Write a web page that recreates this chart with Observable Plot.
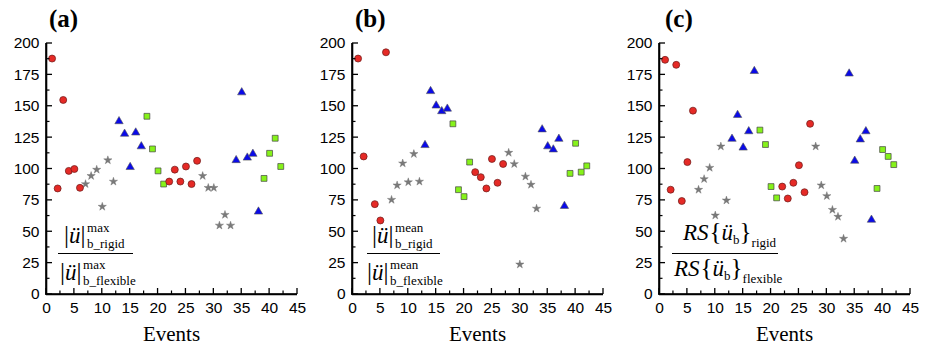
<!DOCTYPE html>
<html><head><meta charset="utf-8">
<script src="https://cdn.jsdelivr.net/npm/d3@7"></script>
<script src="https://cdn.jsdelivr.net/npm/@observablehq/plot@0.6"></script>
<style>
html,body{margin:0;padding:0;background:#fff}
#root{position:relative;width:927px;height:346px;overflow:hidden;background:#fff}
.panel{position:absolute;top:0;width:307px;height:346px}
.panel > svg{position:absolute;left:0;top:0}
</style></head><body><div id="root"></div>
<script>
// Event numbers of each group
const redEvents   = [1,2,3,4,5,6,22,23,24,25,26,27];
const starEvents  = [7,8,9,10,11,12,28,29,30,31,32,33];
const blueEvents  = [13,14,15,16,17,34,35,36,37,38];
const greenEvents = [18,19,20,21,39,40,41,42];

// (a) max ratio
const redA   = [188,84.5,155,98.5,100,85,90,99.5,90,102,88,106.5];
const starA  = [88,94.5,99.5,70,107,90,94.5,85,85,55,63.5,55];
const blueA  = [138,128,101.5,129,118,107,161,109,112,66];
const greenA = [142,116,98.5,88,92.5,112.5,124.5,102];

// (b) mean ratio (event 3 off the chart)
const redB   = [188,110,null,72,59,193,97.5,93.5,84.5,108,89,104];
const starB  = [75.5,87,104.5,89.5,112,90,113,104,24,94,87.5,68.5];
const blueB  = [119,162,150.5,146,148,131.5,118,115.5,124,70.5];
const greenB = [136,83.5,78,105.5,96.5,120.5,97.5,102.5];

// (c) response spectrum ratio
const redC   = [187,83.5,183,74.5,105.5,146.5,86,76.5,89,103,81.5,136];
const starC  = [83.5,92,101,63,118,75,118,87,78.5,67.5,62,44.5];
const blueC  = [124,143,117,130,178,176,106.5,123.5,130,59.5];
const greenC = [131,119.5,86,77,84.5,115.5,110,103.5];

// ticks
const xTicks = [0,5,10,15,20,25,30,35,40,45];
const xMinor = [2.5,7.5,12.5,17.5,22.5,27.5,32.5,37.5,42.5];
const yTicks = [0,25,50,75,100,125,150,175,200];
const yMinor = [12.5,37.5,62.5,87.5,112.5,137.5,162.5,187.5];

const titles = ["(a)","(b)","(c)"];
const xLabel = "Events";

const zip = (ev, vals) => ev.map((e, i) => ({e, v: vals[i]}));

const root = document.getElementById("root");
const SERIF = "Liberation Serif";

const W = 307, H = 346, ML = 46, MR = 10, MT = 43, MB = 52;
const X0 = 0, X1 = 45, Y0 = 0, Y1 = 200;

const panels = [
  {left:0,   red:redA, star:starA, blue:blueA, green:greenA, kind:"max"},
  {left:306, red:redB, star:starB, blue:blueB, green:greenB, kind:"mean"},
  {left:613, red:redC, star:starC, blue:blueC, green:greenC, kind:"rs"}
];

panels.forEach((p, k) => {
  const div = document.createElement("div");
  div.className = "panel";
  div.style.left = p.left + "px";
  root.appendChild(div);

  const chart = Plot.plot({
    width: W, height: H,
    marginLeft: ML, marginRight: MR, marginTop: MT, marginBottom: MB,
    style: {fontFamily: "Liberation Sans", fontSize: "15.5px", background: "transparent"},
    x: {domain: [X0, X1]},
    y: {domain: [Y0, Y1]},
    marks: [
      Plot.axisX({ticks: xTicks, tickSize: 0, tickPadding: 7, label: null, fontSize: 15.5, fill: "black"}),
      Plot.axisY({ticks: yTicks, tickSize: 0, tickPadding: 7, label: null, fontSize: 15.5, fill: "black"}),
      Plot.ruleX([X0], {stroke: "black", strokeWidth: 1.6}),
      Plot.ruleY([Y0], {stroke: "black", strokeWidth: 1.6}),
      Plot.dot(zip(starEvents, p.star), {x: "e", y: "v", symbol: "star", r: 2.6, fill: "#7a7a7a", stroke: "#6a6a6a", strokeWidth: 0.4}),
      Plot.dot(zip(blueEvents, p.blue), {x: "e", y: "v", symbol: "triangle", r: 3.1, fill: "#0a0ae8", stroke: "#555", strokeWidth: 0.6}),
      Plot.dot(zip(greenEvents, p.green), {x: "e", y: "v", symbol: "square", r: 3.3, fill: "#86f21a", stroke: "#444", strokeWidth: 0.7}),
      Plot.dot(zip(redEvents, p.red), {x: "e", y: "v", symbol: "circle", r: 3.5, fill: "#e52a26", stroke: "#6a1a18", strokeWidth: 0.7})
    ]
  });
  div.appendChild(chart);

  // axis lines and inward ticks, placed with Plot's own scales, drawn as filled rects inside the chart
  const sx = chart.scale("x"), sy = chart.scale("y");
  const X = v => sx.apply(v), Y = v => sy.apply(v);
  const g = d3.select(chart).append("g");
  const box = (x, y, w, h) => g.append("rect").attr("x", x).attr("y", y).attr("width", w).attr("height", h)
    .attr("fill", "#000").style("fill", "#000");
  xTicks.forEach(t => box(X(t) - 0.65, Y(Y0) - 6, 1.3, 6));
  xMinor.forEach(t => box(X(t) - 0.6, Y(Y0) - 3.5, 1.2, 3.5));
  yTicks.forEach(t => box(X(X0), Y(t) - 0.65, 6, 1.3));
  yMinor.forEach(t => box(X(X0), Y(t) - 0.6, 3.5, 1.2));
  box(X(X0) - 0.8, Y(Y1), 1.6, Y(Y0) - Y(Y1) + 0.8);
  box(X(X0) - 0.8, Y(Y0) - 0.8, X(X1) - X(X0) + 0.8, 1.6);

  // annotation overlay
  const svg = d3.select(div).append("svg").attr("width", W).attr("height", H)
    .attr("font-family", SERIF).style("pointer-events", "none");

  svg.append("text").attr("x", k === 2 ? 52 : 49).attr("y", 27).attr("font-family", SERIF)
    .attr("font-size", 25).attr("font-weight", "bold").text(titles[k]);

  svg.append("text").attr("x", (X(X0) + X(X1)) / 2).attr("y", 341).attr("text-anchor", "middle").attr("font-family", SERIF)
    .attr("font-size", 21).attr("font-weight", "normal").text(xLabel);

  const norm = (x, y, sup, sub) => {
    const t = svg.append("text").attr("x", x).attr("y", y).attr("font-size", 23).attr("font-family", SERIF);
    t.append("tspan").attr("font-size", 25).text("|");
    t.append("tspan").attr("font-style", "italic").text("\u00fc");
    t.append("tspan").attr("font-size", 25).text("|");
    const w = t.node().getComputedTextLength();
    svg.append("text").attr("x", x + w + 1.5).attr("y", y - 11).attr("font-family", SERIF).attr("font-size", 13).text(sup);
    svg.append("text").attr("x", x + w + 1.5).attr("y", y + 5).attr("font-family", SERIF).attr("font-size", 13).text(sub);
  };
  const rs = (x, y, sub) => {
    const t = svg.append("text").attr("x", x).attr("y", y).attr("font-size", 23).attr("font-family", SERIF);
    t.append("tspan").attr("font-style", "italic").text("RS");
    t.append("tspan").attr("font-size", 25).attr("dx", 1).text("{");
    t.append("tspan").attr("font-style", "italic").text("\u00fc");
    t.append("tspan").attr("font-size", 13).attr("dy", 4).text("b");
    t.append("tspan").attr("font-size", 25).attr("dy", -4).text("}");
    t.append("tspan").attr("font-size", 13).attr("dy", 7).text(sub);
  };

  const fracLine = (x1, x2) => svg.append("line").attr("x1", x1).attr("x2", x2)
    .attr("y1", 253.5).attr("y2", 253.5).attr("stroke", "#000").attr("stroke-width", 1);

  if (p.kind === "max") {
    norm(64, 243, "max", "b_rigid");
    fracLine(58, 133);
    norm(60, 280, "max", "b_flexible");
  } else if (p.kind === "mean") {
    norm(66, 243, "mean", "b_rigid");
    fracLine(61, 134);
    norm(61, 280, "mean", "b_flexible");
  } else {
    rs(70, 240, "rigid");
    fracLine(59, 165);
    rs(61, 276, "flexible");
  }
});
</script></body></html>
